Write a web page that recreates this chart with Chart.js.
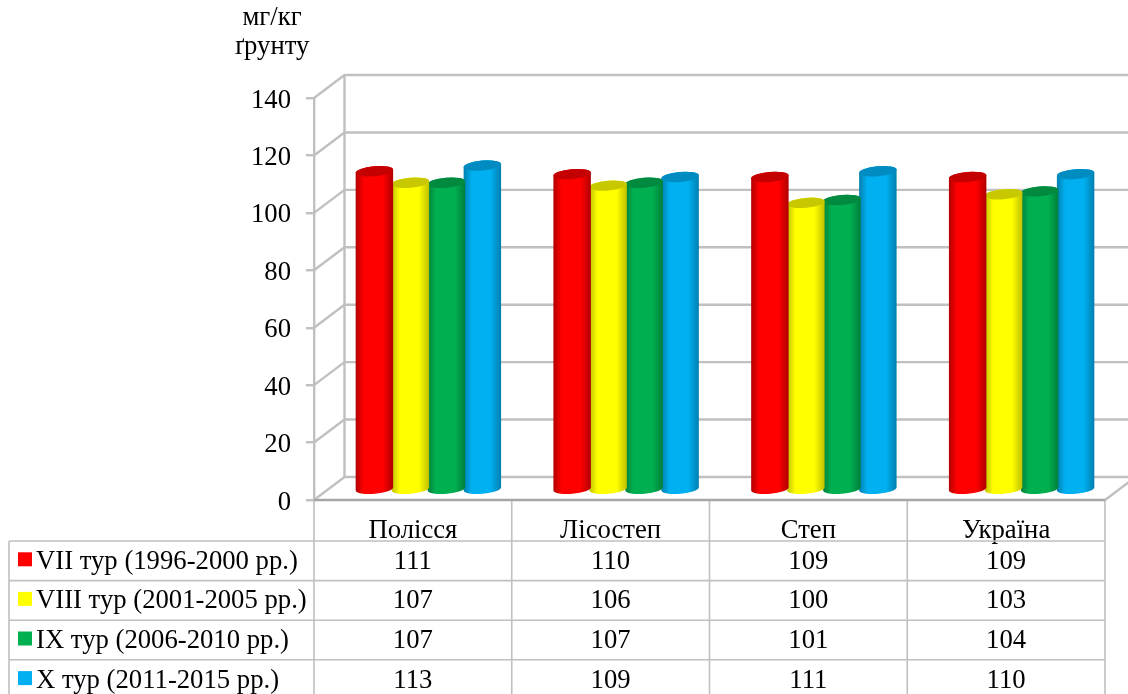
<!DOCTYPE html>
<html lang="uk">
<head>
<meta charset="utf-8">
<style>html,body{margin:0;padding:0;background:#fff}canvas{display:block}</style>
<script src="https://cdn.jsdelivr.net/npm/chart.js@4"></script>
</head>
<body>
<canvas id="c" width="1128" height="694"></canvas>
<script>
const categories = ['Полісся', 'Лісостеп', 'Степ', 'Україна'];
const seriesNames = ['VII тур (1996-2000 рр.)', 'VIII тур (2001-2005 рр.)', 'IX тур (2006-2010 рр.)', 'X тур (2011-2015 рр.)'];
const tour7 = [111, 110, 109, 109];
const tour8 = [107, 106, 100, 103];
const tour9 = [107, 107, 101, 104];
const tour10 = [113, 109, 111, 110];
const seriesColors = ['#ff0000', '#ffff00', '#00b050', '#00b0f0'];
const capColors = ['#c40000', '#c8c800', '#008a40', '#008cc0'];
const edgeColors = ['#b00000', '#c0c000', '#007f3a', '#007fae'];
const unitLines = ['мг/кг', 'ґрунту'];
const yTicks = { min: 0, max: 140, step: 20 };

const FONT_SIZE = 26.7;
const FONT = FONT_SIZE + 'px "Liberation Serif"';
const GRID = '#c0c0c0';
const DEPTH_X = 30.5, DEPTH_Y = 23;
const ROW_TOP = 541, ROW_H = 39.6, LEGEND_LEFT = 9;

const wallPlugin = {
  id: 'wall',
  beforeDatasetsDraw(chart) {
    const { ctx, chartArea: a, scales: { y } } = chart;
    ctx.save();
    ctx.strokeStyle = GRID;
    ctx.lineWidth = 2.4;
    ctx.beginPath();
    ctx.moveTo(a.left + DEPTH_X, y.getPixelForValue(yTicks.min) - DEPTH_Y);
    ctx.lineTo(a.left + DEPTH_X, y.getPixelForValue(yTicks.max) - DEPTH_Y);
    for (let v = yTicks.min; v <= yTicks.max; v += yTicks.step) {
      const p = y.getPixelForValue(v);
      ctx.moveTo(a.left, p);
      ctx.lineTo(a.left + DEPTH_X, p - DEPTH_Y);
      ctx.lineTo(a.right + DEPTH_X, p - DEPTH_Y);
    }
    ctx.moveTo(a.right, a.bottom);
    ctx.lineTo(a.right + DEPTH_X, a.bottom - DEPTH_Y);
    ctx.stroke();
    ctx.restore();
  },
  beforeDatasetDraw(chart, args) {
    const { ctx } = chart;
    const i = args.index;
    const meta = args.meta;
    meta.data.forEach(bar => {
      const rx = bar.width / 2 + 0.8, ry = 5, rot = -0.085;
      const cx = bar.x + 15.5;
      const top = bar.y - 10;
      const base = bar.base - 10;
      const g = ctx.createLinearGradient(cx - rx, 0, cx + rx, 0);
      g.addColorStop(0, edgeColors[i]);
      g.addColorStop(0.22, seriesColors[i]);
      g.addColorStop(0.72, seriesColors[i]);
      g.addColorStop(1, edgeColors[i]);
      ctx.save();
      ctx.beginPath();
      ctx.ellipse(cx, base, rx, ry, rot, 0, Math.PI);
      ctx.ellipse(cx, top, rx, ry, rot, Math.PI, Math.PI * 2);
      ctx.closePath();
      ctx.fillStyle = g;
      ctx.fill();
      ctx.beginPath();
      ctx.ellipse(cx, top, rx, ry, rot, 0, Math.PI * 2);
      ctx.fillStyle = capColors[i];
      ctx.fill();
      ctx.restore();
    });
    return false;
  },
  afterDraw(chart) {
    const { ctx, chartArea: a, scales: { x } } = chart;
    const rows = chart.data.datasets.length;
    const bottom = ROW_TOP + ROW_H * rows;
    const half = (x.getPixelForValue(1) - x.getPixelForValue(0)) / 2;
    ctx.save();
    ctx.strokeStyle = GRID;
    ctx.lineWidth = 1.6;
    ctx.beginPath();
    categories.forEach((c, k) => {
      const p = x.getPixelForValue(k) - half;
      ctx.moveTo(p, a.bottom);
      ctx.lineTo(p, bottom);
    });
    ctx.moveTo(a.right, a.bottom);
    ctx.lineTo(a.right, bottom);
    ctx.moveTo(LEGEND_LEFT, ROW_TOP);
    ctx.lineTo(LEGEND_LEFT, bottom);
    for (let r = 0; r <= rows; r++) {
      const p = ROW_TOP + r * ROW_H;
      ctx.moveTo(LEGEND_LEFT, p);
      ctx.lineTo(a.right, p);
    }
    ctx.stroke();
    ctx.beginPath();
    ctx.strokeStyle = '#a6a6a6';
    ctx.lineWidth = 2.4;
    ctx.moveTo(a.left, a.bottom);
    ctx.lineTo(a.right, a.bottom);
    ctx.stroke();

    ctx.font = FONT;
    ctx.fillStyle = '#000';
    ctx.textBaseline = 'middle';
    chart.data.datasets.forEach((ds, r) => {
      const mid = ROW_TOP + (r + 0.5) * ROW_H;
      ctx.fillStyle = seriesColors[r];
      ctx.fillRect(18, mid - 8.5, 14, 14);
      ctx.fillStyle = '#000';
      ctx.textAlign = 'left';
      ctx.fillText(ds.label, 36, mid + 1);
      ctx.textAlign = 'center';
      ds.data.forEach((v, k) => ctx.fillText(String(v), x.getPixelForValue(k), mid + 1));
    });
    ctx.textAlign = 'center';
    unitLines.forEach((t, k) => ctx.fillText(t, 272, 18 + k * 29));
    ctx.restore();
  }
};

new Chart(document.getElementById('c'), {
  type: 'bar',
  data: {
    labels: categories,
    datasets: [tour7, tour8, tour9, tour10].map((d, i) => ({
      label: seriesNames[i],
      data: d,
      backgroundColor: seriesColors[i],
      categoryPercentage: 0.728,
      barPercentage: 1
    }))
  },
  options: {
    responsive: false,
    animation: false,
    events: [],
    layout: { padding: { top: 98, right: 23, left: 0, bottom: 0 } },
    plugins: { legend: { display: false }, tooltip: { enabled: false }, title: { display: false } },
    scales: {
      x: {
        afterFit(s) { s.height = 194; },
        grid: { display: false },
        border: { display: false },
        ticks: { color: '#000', font: { family: 'Liberation Serif', size: FONT_SIZE }, maxRotation: 0, minRotation: 0, autoSkip: false, padding: 7 }
      },
      y: {
        min: yTicks.min,
        max: yTicks.max,
        afterFit(s) { s.width = 314; },
        border: { display: true, color: GRID, width: 2.4 },
        grid: { drawOnChartArea: false, drawTicks: true, tickLength: 8, color: GRID, lineWidth: 2.4 },
        ticks: { stepSize: yTicks.step, color: '#000', font: { family: 'Liberation Serif', size: FONT_SIZE }, padding: 15, labelOffset: 2.5 }
      }
    }
  },
  plugins: [wallPlugin]
});
</script>
</body>
</html>
